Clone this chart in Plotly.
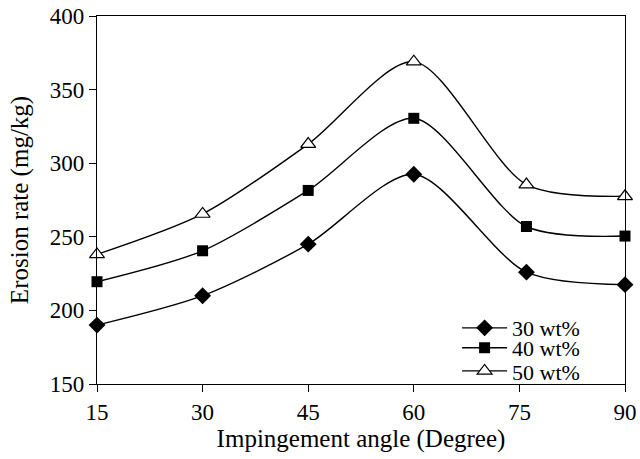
import plotly.graph_objects as go

angles = [15, 30, 45, 60, 76, 90]
wt30 = [190, 210, 245, 292.5, 226, 217.5]
wt40 = [219.5, 240.5, 281.5, 330.5, 257, 250.5]
wt50 = [238, 265.5, 313, 369, 285.5, 277.5]
names = ["30 wt%", "40 wt%", "50 wt%"]
x_ticks = [15, 30, 45, 60, 75, 90]
y_ticks = [150, 200, 250, 300, 350, 400]

FONT = "Liberation Serif"
fig = go.Figure()
styles = [
    dict(symbol="diamond", size=13, color="black", line=dict(color="black", width=0)),
    dict(symbol="square", size=11, color="black", line=dict(color="black", width=0)),
    dict(symbol="triangle-up", size=13, color="white", line=dict(color="black", width=1.2)),
]
legend_ids = ["legend", "legend2", "legend3"]
for vals, name, mk, lg in zip([wt30, wt40, wt50], names, styles, legend_ids):
    fig.add_trace(go.Scatter(
        x=angles, y=vals, name=name, mode="lines+markers",
        line=dict(color="black", width=1.4, shape="spline", smoothing=0.8),
        marker=mk, cliponaxis=False, legend=lg,
    ))

axis_common = dict(
    showline=True, linecolor="black", linewidth=1.2, mirror=True,
    ticks="outside", ticklen=7, tickcolor="black", tickwidth=1.2,
    showgrid=False, zeroline=False, automargin=False, ticklabeloverflow="allow",
    tickfont=dict(family=FONT, size=23, color="black"),
)
fig.update_xaxes(range=[15, 90], tickvals=x_ticks,
                 title=dict(text="Impingement angle (Degree)", font=dict(family=FONT, size=25, color="black"), standoff=4),
                 **axis_common)
fig.update_yaxes(range=[150, 400], tickvals=y_ticks,
                 title=dict(text="Erosion rate (mg/kg)", font=dict(family=FONT, size=25, color="black"), standoff=14),
                 **axis_common)

leg_common = dict(x=0.682, xanchor="left", yanchor="middle",
                  font=dict(family=FONT, size=22, color="black"),
                  bgcolor="rgba(0,0,0,0)", itemwidth=45, borderwidth=0)
fig.update_layout(
    width=640, height=459,
    margin=dict(l=97, r=15, t=16, b=75),
    paper_bgcolor="white", plot_bgcolor="white",
    font=dict(family=FONT, color="black"),
    legend=dict(y=0.152, **leg_common),
    legend2=dict(y=0.098, **leg_common),
    legend3=dict(y=0.035, **leg_common),
    showlegend=True,
)
fig.write_html("out.html", config={"displayModeBar": False},
               post_script="document.body.style.margin='0px';")
